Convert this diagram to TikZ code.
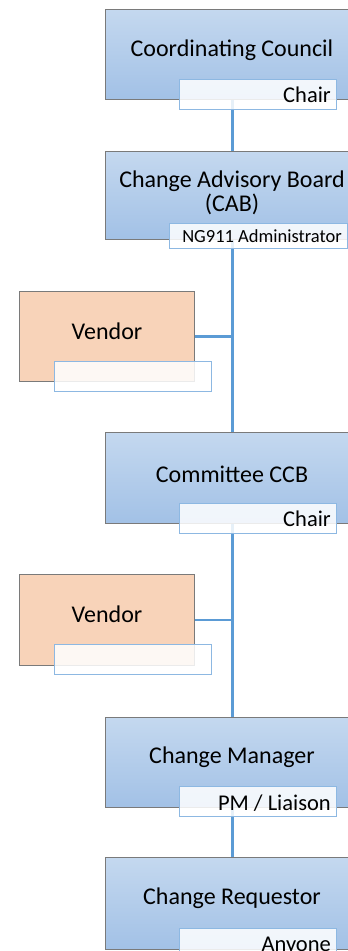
\documentclass[tikz,border=0pt]{standalone}
\usepackage{fontspec}
\setmainfont{Carlito}
\usetikzlibrary{backgrounds}
\definecolor{boxtop}{HTML}{C4D8EF}
\definecolor{boxbot}{HTML}{A2C1E6}
\definecolor{boxline}{HTML}{7A7A7A}
\definecolor{vendfill}{HTML}{F8D3B9}
\definecolor{lblline}{HTML}{8DB8E2}
\definecolor{trunk}{HTML}{5B9BD5}
\begin{document}
\begin{tikzpicture}[x=1pt,y=-1pt,
  mainbox/.style={draw=boxline,line width=0.9pt,top color=boxtop,bottom color=boxbot,
    minimum width=254pt,minimum height=90pt,inner sep=0pt,anchor=north west},
  vendbox/.style={draw=boxline,line width=0.9pt,fill=vendfill,
    minimum width=175pt,minimum height=90pt,inner sep=0pt,anchor=north west},
  lblbox/.style={draw=lblline,line width=1pt,fill=white,fill opacity=0.85,
    minimum width=157pt,minimum height=30pt,inner sep=0pt,anchor=north west},
  boxtext/.style={inner sep=0pt,font=\fontsize{24}{27}\selectfont,align=center},
  lbltext/.style={anchor=base east,inner sep=0pt,font=\fontsize{22.5}{24}\selectfont},
  conn/.style={draw=trunk,line width=2.3pt}
]
\useasboundingbox (0,0) rectangle (348,951);
\clip (0,0) rectangle (348,951);
% boxes
\node[mainbox] (b1) at (105,9) {};
\node[mainbox,minimum height=88pt] (b2) at (105,151) {};
\node[mainbox,minimum height=91pt] (b3) at (105,432) {};
\node[mainbox] (b4) at (105,717) {};
\node[mainbox,minimum height=92pt] (b5) at (105,857) {};
\node[vendbox] (v1) at (19,291) {};
\node[vendbox,minimum height=91pt] (v2) at (19,574) {};
% connectors behind boxes
\begin{scope}[on background layer]
\coordinate (j1) at (v1.east -| b2.south);
\coordinate (j2) at (v2.east -| b3.south);
\draw[conn] (b1.south) -- (b2.north);
\draw[conn] (b2.south) -- (b3.north);
\draw[conn] (b3.south) -- (b4.north);
\draw[conn] (b4.south) -- (b5.north);
\draw[conn] (v1.east) -- (j1);
\draw[conn] (v2.east) -- (j2);
\end{scope}
% texts in boxes
\node[boxtext] (t1) at (232,50) {Coordinating Council};
\node[boxtext] (t2) at (232,193) {Change Advisory Board\\[-3pt](CAB)};
\node[boxtext] (t3) at (232,474) {Committee CCB};
\node[boxtext] (t4) at (232,757) {Change Manager};
\node[boxtext] (t5) at (232,898) {Change Requestor};
\node[boxtext] (tv1) at (107,331) {Vendor};
\node[boxtext] (tv2) at (107,614) {Vendor};
% labels
\node[lblbox] (l1) at (179,79) {};
\node[lblbox,minimum width=178pt,minimum height=25pt] (l2) at (169,223) {};
\node[lblbox] (l3) at (179,503) {};
\node[lblbox] (l4) at (179,786) {};
\node[lblbox] (l5) at (179,928) {};
\node[lblbox] (lv1) at (54,361) {};
\node[lblbox] (lv2) at (54,644) {};
\node[lbltext] (c1) at (331,102) {Chair};
\node[lbltext,font=\fontsize{18.5}{20}\selectfont] (c2) at (342,242) {NG911 Administrator};
\node[lbltext] (c3) at (331,526) {Chair};
\node[lbltext] (c4) at (331,810) {PM / Liaison};
\node[lbltext] (c5) at (331,951) {Anyone};
\end{tikzpicture}
\end{document}
